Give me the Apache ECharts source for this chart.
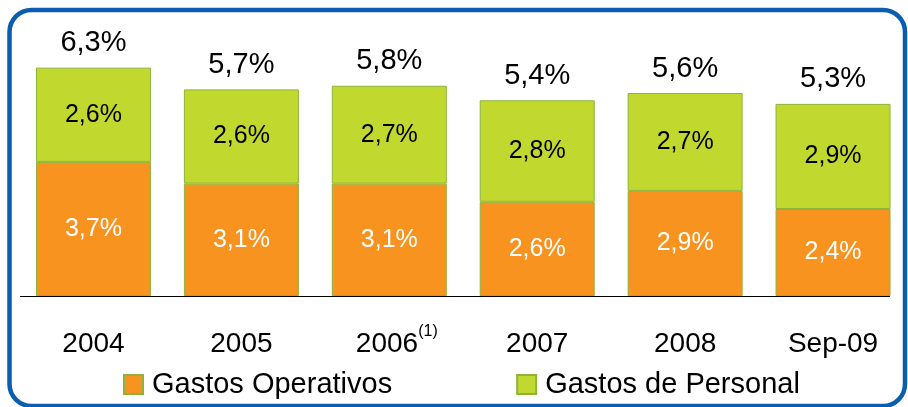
<!DOCTYPE html>
<html>
<head>
<meta charset="utf-8">
<script src="https://cdn.jsdelivr.net/npm/echarts@6/dist/echarts.min.js"></script>
<style>
  html, body { margin: 0; padding: 0; background: #fff; }
  #main { width: 908px; height: 407px; }
</style>
</head>
<body>
<div id="main"></div>
<script>
let categories = ["2004", "2005", "2006", "2007", "2008", "Sep-09"]
let operativos = [3.7, 3.1, 3.1, 2.6, 2.9, 2.4]
let personal = [2.6, 2.6, 2.7, 2.8, 2.7, 2.9]
let totales = [6.3, 5.7, 5.8, 5.4, 5.6, 5.3]
let notas = { "2006": "(1)" }

const FONT = "Liberation Sans"
const pct = v => v.toFixed(1).replace(".", ",") + "%"

var myChart = echarts.init(document.getElementById('main'))

var option = {
    animation: false,
    textStyle: { fontFamily: FONT },
    grid: { left: 19.5, right: 1, top: 6, bottom: 111 },
    graphic: [
        {
            type: 'rect',
            shape: { x: 9.5, y: 10, width: 895.5, height: 396, r: 22 },
            style: { fill: 'none', stroke: '#0B5EAF', lineWidth: 4.5 },
            z: 10
        },
        {
            // línea base del eje
            type: 'line',
            shape: { x1: 20, y1: 296.5, x2: 890, y2: 296.5 },
            style: { stroke: '#000', lineWidth: 1.2 },
            z: 10
        }
    ],
    legend: {
        data: ['Gastos Operativos', 'Gastos de Personal'],
        icon: 'rect',
        left: 123,
        top: 370,
        padding: 0,
        itemWidth: 19,
        itemHeight: 19,
        itemGap: 124,
        textStyle: { fontSize: 29, color: '#000', fontFamily: FONT, padding: [0, 0, 0, 4] }
    },
    xAxis: {
        type: 'category',
        data: categories,
        axisLine: { show: false },
        axisTick: { show: false },
        axisLabel: {
            interval: 0,
            margin: 26,
            fontSize: 28,
            lineHeight: 44,
            color: '#000',
            fontFamily: FONT,
            formatter: v => notas[v] ? `{pad|}{y|${v}}{sup|${notas[v]}}` : v,
            rich: {
                pad: { width: 15, lineHeight: 44 },
                y: { fontSize: 28, lineHeight: 44, color: '#000', fontFamily: FONT },
                sup: { fontSize: 16, color: '#000', fontFamily: FONT, verticalAlign: 'top', padding: [2, 0, 0, 0] }
            }
        }
    },
    yAxis: {
        type: 'value',
        min: 0,
        max: 8,
        show: false,
        splitLine: { show: false }
    },
    series: [
        {
            name: 'Gastos Operativos',
            type: 'bar',
            stack: 'gastos',
            barWidth: 115,
            data: operativos,
            itemStyle: { color: '#F7931E', borderColor: '#8DB43A', borderWidth: 1 },
            label: {
                show: true,
                position: 'inside',
                fontSize: 25,
                color: '#fff',
                fontFamily: FONT,
                formatter: p => pct(p.value)
            }
        },
        {
            name: 'Gastos de Personal',
            type: 'bar',
            stack: 'gastos',
            data: personal,
            itemStyle: { color: '#C1D82F', borderColor: '#8DB43A', borderWidth: 1 },
            label: {
                show: true,
                position: 'inside',
                fontSize: 25,
                color: '#000',
                fontFamily: FONT,
                formatter: p => pct(p.value)
            }
        },
        {
            name: 'Total',
            type: 'bar',
            stack: 'gastos',
            data: categories.map(() => 0),
            itemStyle: { color: 'transparent', borderWidth: 0 },
            label: {
                show: true,
                position: 'top',
                distance: 10,
                fontSize: 29,
                color: '#000',
                fontFamily: FONT,
                formatter: p => pct(totales[p.dataIndex])
            }
        }
    ]
}

myChart.setOption(option)
</script>
</body>
</html>
